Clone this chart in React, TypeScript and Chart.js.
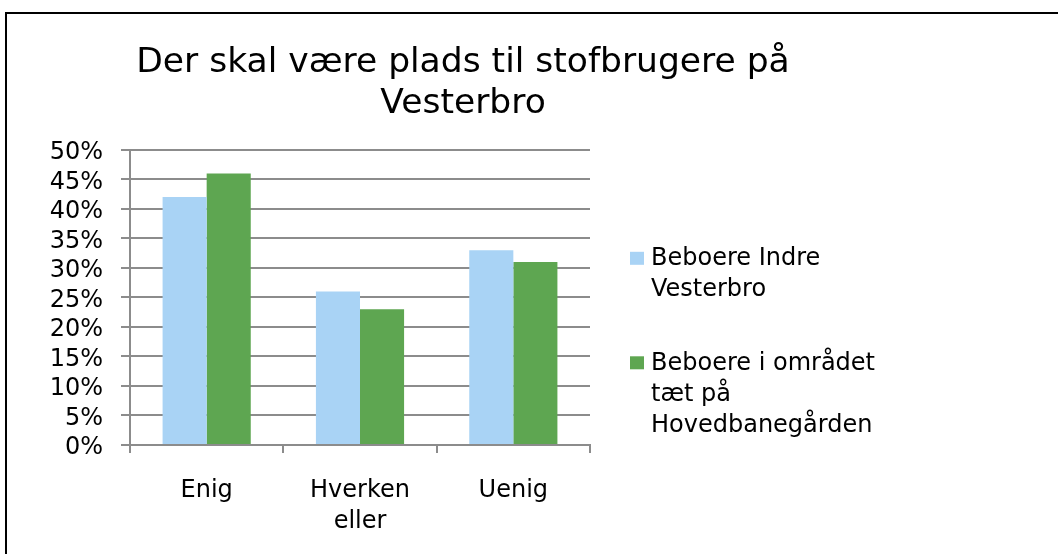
import React, { useEffect, useRef } from 'react';
import { Chart, registerables, layouts } from 'chart.js';

Chart.register(...registerables);

// ---- data ----
const titleLines = ['Der skal være plads til stofbrugere på', 'Vesterbro'];
const categories: (string | string[])[] = ['Enig', ['Hverken', 'eller'], 'Uenig'];
const seriesIndreLines = ['Beboere Indre', 'Vesterbro'];
const seriesHovedLines = ['Beboere i området', 'tæt på', 'Hovedbanegården'];
const indreVesterbro = [42, 26, 33];
const hovedbanegaarden = [46, 23, 31];
const yMin = 0;
const yMax = 50;
const yStep = 5;

// ---- styling ----
const PAGE_W = 1058;
const PAGE_H = 554;
const FONT = 'DejaVu Sans';
const LABEL_SIZE = 24;
const GRID = '#8c8c8c';
const BLUE = '#a9d3f5';
const GREEN = '#5ea651';
const LEGEND_BOX_W = 336;

const sideLegend = {
  id: 'sideLegend',
  beforeInit(chart: any) {
    const box: any = {
      position: 'right',
      weight: 10,
      fullSize: false,
      options: { stack: undefined, stackWeight: 1 },
      left: 0, top: 0, right: 0, bottom: 0, width: 0, height: 0,
      isHorizontal() { return false; },
      update(_maxW: number, maxH: number) {
        this.width = LEGEND_BOX_W;
        this.height = maxH;
        return { width: this.width, height: this.height };
      },
      draw() {
        const ctx = chart.ctx;
        const area = chart.chartArea;
        const lineH = 31;
        const startY = area.top + 109;
        const itemGap = 104.5;
        ctx.save();
        ctx.font = `${LABEL_SIZE}px "${FONT}"`;
        ctx.textBaseline = 'middle';
        ctx.textAlign = 'left';
        chart.data.datasets.forEach((ds: any, i: number) => {
          const y0 = startY + i * itemGap;
          const bx = area.right + 40;
          ctx.fillStyle = ds.backgroundColor;
          ctx.fillRect(bx, y0 - 7, 14, 13);
          ctx.fillStyle = '#000';
          (ds.legendLines as string[]).forEach((ln, j) => {
            ctx.fillText(ln, bx + 21, y0 + j * lineH);
          });
        });
        ctx.restore();
      },
    };
    chart.$sideLegend = box;
    layouts.addBox(chart, box);
  },
  afterDestroy(chart: any) {
    if (chart.$sideLegend) layouts.removeBox(chart, chart.$sideLegend);
  },
};

export default function App() {
  const ref = useRef<HTMLCanvasElement | null>(null);

  useEffect(() => {
    if (!ref.current) return;
    const chart = new Chart(ref.current, {
      type: 'bar',
      data: {
        labels: categories as any,
        datasets: [
          {
            label: seriesIndreLines.join(' '),
            legendLines: seriesIndreLines,
            data: indreVesterbro,
            backgroundColor: BLUE,
            categoryPercentage: 0.575,
            barPercentage: 1,
          } as any,
          {
            label: seriesHovedLines.join(' '),
            legendLines: seriesHovedLines,
            data: hovedbanegaarden,
            backgroundColor: GREEN,
            categoryPercentage: 0.575,
            barPercentage: 1,
          } as any,
        ],
      },
      options: {
        animation: false,
        responsive: true,
        maintainAspectRatio: false,
        layout: { padding: { left: 0, right: 132, top: 0, bottom: 22 } },
        plugins: {
          legend: { display: false },
          tooltip: { enabled: false },
          title: {
            display: true,
            text: titleLines,
            color: '#000',
            font: { family: FONT, size: 34.5, weight: 'normal', lineHeight: 1.2 },
            padding: { top: 42, bottom: 25 },
          },
        },
        scales: {
          x: {
            offset: true,
            afterFit(scale: any) { scale.height = 87; },
            grid: {
              offset: true,
              drawOnChartArea: false,
              drawTicks: true,
              tickLength: 8,
              color: GRID,
              lineWidth: 2,
            },
            border: { display: true, color: GRID, width: 2 },
            ticks: {
              color: '#000',
              padding: 22,
              font: { family: FONT, size: LABEL_SIZE, lineHeight: 1.3 },
              maxRotation: 0,
              autoSkip: false,
            },
          },
          y: {
            min: yMin,
            max: yMax,
            afterFit(scale: any) { scale.width = 130; },
            grid: {
              color: GRID,
              lineWidth: 2,
              drawTicks: true,
              tickLength: 9,
            },
            border: { display: true, color: GRID, width: 2 },
            ticks: {
              stepSize: yStep,
              autoSkip: false,
              color: '#000',
              padding: 18,
              labelOffset: 3,
              font: { family: FONT, size: LABEL_SIZE },
              callback: (v: any) => `${v}%`,
            },
          },
        },
      },
      plugins: [sideLegend as any],
    });
    return () => chart.destroy();
  }, []);

  return (
    <div style={{ position: 'absolute', left: 0, top: 0, width: PAGE_W, height: PAGE_H, overflow: 'hidden', background: '#fff' }}>
      <div style={{ position: 'absolute', left: 0, top: 0, width: PAGE_W, height: PAGE_H }}>
        <canvas ref={ref} />
      </div>
      <div style={{ position: 'absolute', left: 5, top: 12, width: 1200, height: 700, borderLeft: '2px solid #000', borderTop: '2px solid #000', pointerEvents: 'none' }} />
    </div>
  );
}
